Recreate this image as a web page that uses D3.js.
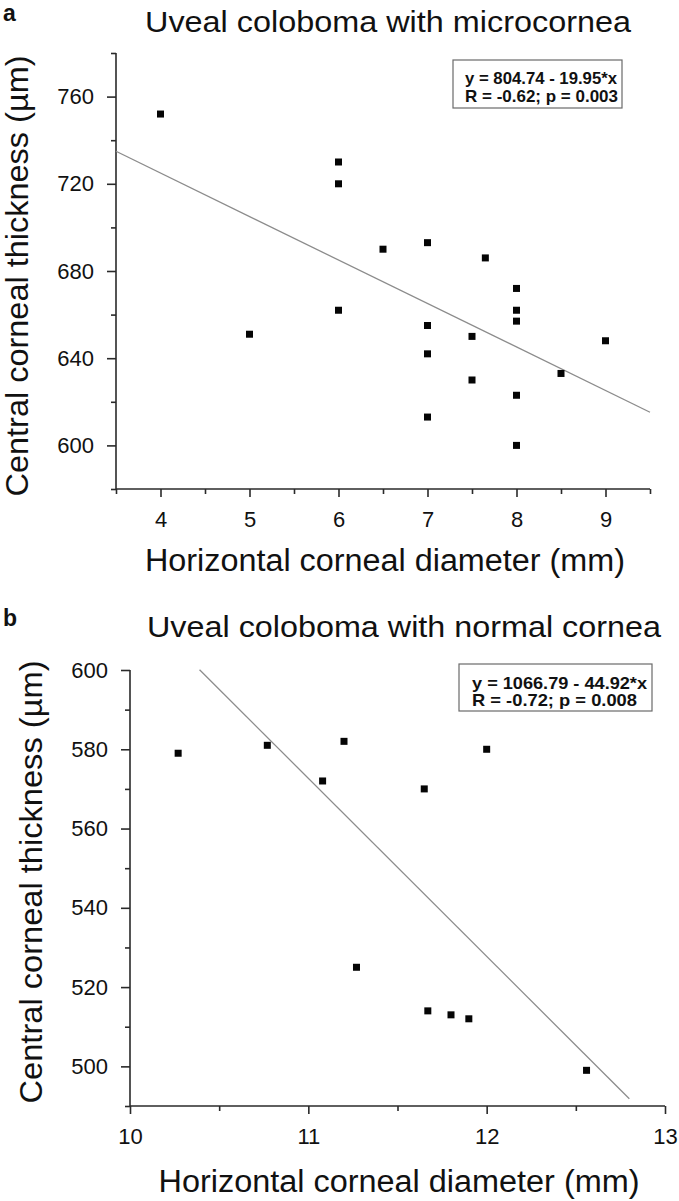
<!DOCTYPE html>
<html>
<head>
<meta charset="utf-8">
<script src="https://cdn.jsdelivr.net/npm/d3@7"></script>
<style>
  html, body { margin: 0; padding: 0; background: #fff; }
  svg { display: block; }
  text { font-family: "Liberation Sans", Arial, Helvetica, sans-serif; fill: #111; }
</style>
</head>
<body>
<svg id="chart" width="679" height="1201"></svg>
<script>
// ---------- Data: panel a (microcornea) ----------
const aDiameter = [4, 5, 6, 6, 6, 6.5, 7, 7, 7, 7, 7.5, 7.5, 7.65, 8, 8, 8, 8, 8, 8.5, 9];
const aThickness = [752, 651, 730, 720, 662, 690, 693, 655, 642, 613, 650, 630, 686, 672, 662, 657, 623, 600, 633, 648];
const aFit = [804.74, -19.95];           // intercept, slope
const aFitRange = [3.5, 9.5];
const aXDomain = [3.5, 9.5];
const aYDomain = [580, 780];
const aXTicks = [4, 5, 6, 7, 8, 9];
const aXMinor = [3.5, 4.5, 5.5, 6.5, 7.5, 8.5, 9.5];
const aYTicks = [600, 640, 680, 720, 760];
const aYMinor = [580, 620, 660, 700, 740, 780];
const aLegend = ["y = 804.74 - 19.95*x", "R = -0.62; p = 0.003"];
const aTitle = "Uveal coloboma with microcornea";

// ---------- Data: panel b (normal cornea) ----------
const bDiameter = [10.27, 10.77, 11.08, 11.2, 11.27, 11.65, 11.67, 11.8, 11.9, 12, 12.56];
const bThickness = [579, 581, 572, 582, 525, 570, 514, 513, 512, 580, 499];
const bFit = [1066.79, -44.92];
const bFitRange = [10.39, 12.8];
const bXDomain = [10, 13];
const bYDomain = [490, 600];
const bXTicks = [10, 11, 12, 13];
const bXMinor = [10.5, 11.5, 12.5];
const bYTicks = [500, 520, 540, 560, 580, 600];
const bYMinor = [490, 510, 530, 550, 570, 590];
const bLegend = ["y = 1066.79 - 44.92*x", "R = -0.72; p = 0.008"];
const bTitle = "Uveal coloboma with normal cornea";

const xLabel = "Horizontal corneal diameter (mm)";
const yLabel = "Central corneal thickness (\u00b5m)";

const svg = d3.select("#chart");

function panel(cfg) {
  const g = svg.append("g");
  const x = d3.scaleLinear().domain(cfg.xDomain).range([cfg.left, cfg.right]);
  const y = d3.scaleLinear().domain(cfg.yDomain).range([cfg.bottom, cfg.top]);
  const axisColor = "#2a2a2a";

  // Y axis (major + minor)
  const yAx = g.append("g").attr("transform", `translate(${cfg.left},0)`)
    .call(d3.axisLeft(y).tickValues(cfg.yTicks).tickSize(9).tickPadding(13).tickFormat(d3.format("d")));
  g.append("g").attr("transform", `translate(${cfg.left},0)`)
    .call(d3.axisLeft(y).tickValues(cfg.yMinor).tickSize(5).tickFormat(""))
    .call(s => s.select(".domain").remove());
  // X axis (major + minor)
  const xAx = g.append("g").attr("transform", `translate(0,${cfg.bottom})`)
    .call(d3.axisBottom(x).tickValues(cfg.xTicks).tickSize(8).tickPadding(14).tickFormat(d3.format("d")));
  g.append("g").attr("transform", `translate(0,${cfg.bottom})`)
    .call(d3.axisBottom(x).tickValues(cfg.xMinor).tickSize(5).tickFormat(""))
    .call(s => s.select(".domain").remove());

  yAx.select(".domain").attr("d", `M0,${cfg.top}V${cfg.bottom}`);
  xAx.select(".domain").attr("d", `M${cfg.left},0H${cfg.right}`);
  g.selectAll(".domain, .tick line").attr("stroke", axisColor).attr("stroke-width", 1.6);
  g.selectAll(".tick text").attr("font-size", cfg.tickFont).attr("fill", "#1a1a1a")
    .attr("font-family", '"Liberation Sans", Arial, sans-serif');

  // Regression line
  const fitPts = cfg.fitRange.map(v => [v, cfg.fit[0] + cfg.fit[1] * v]);
  g.append("path").datum(fitPts)
    .attr("d", d3.line().x(d => x(d[0])).y(d => y(d[1])))
    .attr("fill", "none").attr("stroke", "#8c8c8c").attr("stroke-width", 1.3);

  // Points
  const s = 7;
  g.append("g").selectAll("rect").data(cfg.xs.map((v, i) => [v, cfg.ys[i]])).join("rect")
    .attr("x", d => x(d[0]) - s / 2).attr("y", d => y(d[1]) - s / 2)
    .attr("width", s).attr("height", s).attr("fill", "#050505");

  // Legend box
  const lb = cfg.legendBox;
  g.append("rect").attr("x", lb[0]).attr("y", lb[1]).attr("width", lb[2]).attr("height", lb[3])
    .attr("fill", "#fff").attr("stroke", "#6a6a6a").attr("stroke-width", 1.2);
  cfg.legend.forEach((t, i) => {
    g.append("text").attr("x", lb[0] + cfg.legendPad).attr("y", cfg.legendBase[i])
      .attr("font-size", cfg.legendFont).attr("font-weight", "bold")
      .attr("textLength", cfg.legendLen[i]).attr("lengthAdjust", "spacingAndGlyphs")
      .text(t);
  });

  // Panel letter
  g.append("text").attr("x", 3).attr("y", cfg.letterY).attr("font-size", 23)
    .attr("font-weight", "bold").text(cfg.letter);

  // Title
  g.append("text").attr("x", cfg.titleX).attr("y", cfg.titleY).attr("text-anchor", "middle")
    .attr("font-size", cfg.titleFont).attr("textLength", cfg.titleLen).attr("lengthAdjust", "spacingAndGlyphs")
    .text(cfg.title);

  // X label
  g.append("text").attr("x", cfg.xLabelX).attr("y", cfg.xLabelY).attr("text-anchor", "middle")
    .attr("font-size", cfg.labelFont).attr("textLength", cfg.xLabelLen).attr("lengthAdjust", "spacingAndGlyphs")
    .text(xLabel);

  // Y label
  g.append("text").attr("transform", `translate(${cfg.yLabelX},${cfg.yLabelY}) rotate(-90)`)
    .attr("text-anchor", "middle").attr("font-size", cfg.labelFont)
    .attr("textLength", cfg.yLabelLen).attr("lengthAdjust", "spacingAndGlyphs")
    .text(yLabel);
}

panel({
  xs: aDiameter, ys: aThickness, fit: aFit, fitRange: aFitRange,
  xDomain: aXDomain, yDomain: aYDomain, xTicks: aXTicks, xMinor: aXMinor, yTicks: aYTicks, yMinor: aYMinor,
  left: 116, right: 650, top: 53, bottom: 489, tickFont: 22,
  legend: aLegend, legendBox: [453, 60, 169, 48], legendPad: 12, legendBase: [84, 102], legendFont: 17, legendLen: [152, 153],
  letter: "a", letterY: 21,
  title: aTitle, titleX: 388, titleY: 32, titleFont: 30, titleLen: 486,
  xLabelX: 385, xLabelY: 571, xLabelLen: 480, labelFont: 31,
  yLabelX: 28, yLabelY: 276, yLabelLen: 441
});

panel({
  xs: bDiameter, ys: bThickness, fit: bFit, fitRange: bFitRange,
  xDomain: bXDomain, yDomain: bYDomain, xTicks: bXTicks, xMinor: bXMinor, yTicks: bYTicks, yMinor: bYMinor,
  left: 130, right: 665, top: 670, bottom: 1106, tickFont: 22,
  legend: bLegend, legendBox: [459, 664, 193, 47], legendPad: 13, legendBase: [689, 706], legendFont: 17, legendLen: [175, 165],
  letter: "b", letterY: 626,
  title: bTitle, titleX: 404, titleY: 637, titleFont: 30, titleLen: 514,
  xLabelX: 399, xLabelY: 1192, xLabelLen: 481, labelFont: 31,
  yLabelX: 42, yLabelY: 882, yLabelLen: 443
});
</script>
</body>
</html>
